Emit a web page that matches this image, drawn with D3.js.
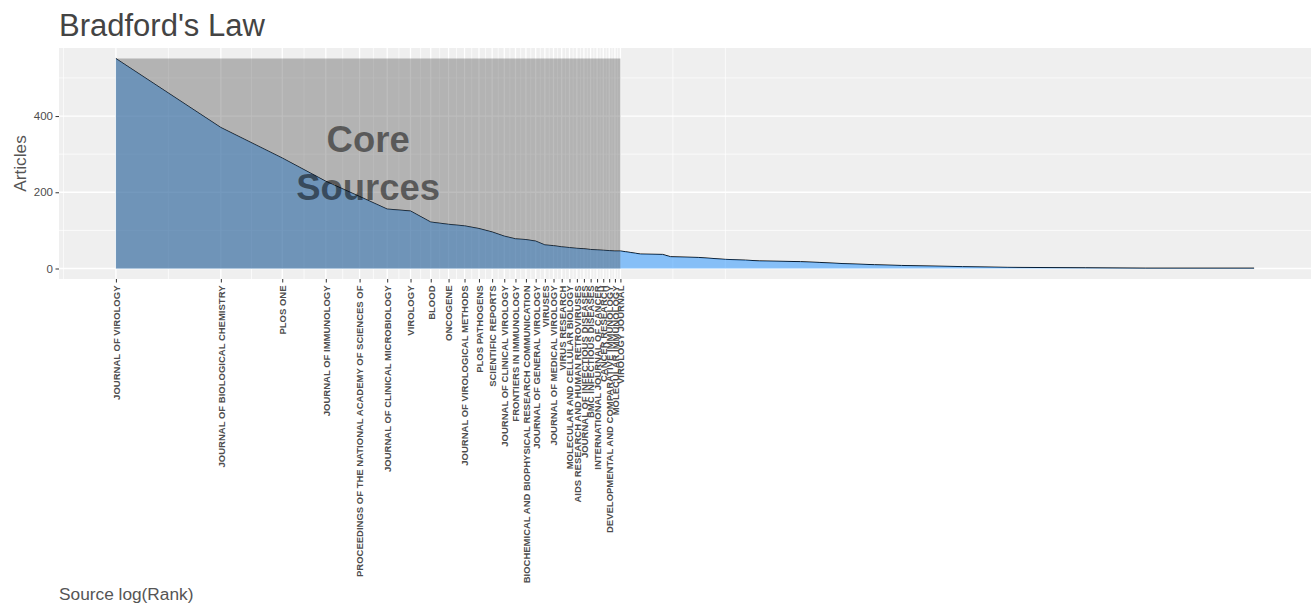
<!DOCTYPE html>
<html><head><meta charset="utf-8">
<script src="https://cdn.jsdelivr.net/npm/d3@7/dist/d3.min.js"></script>
<style>
body{margin:0;background:#fff;}
svg{display:block;font-family:"Liberation Sans",Arial,sans-serif;}
</style>
</head><body>
<svg id="c" width="1314" height="604"></svg>
<script>
// ---- data ----
const coreSources = [
  "JOURNAL OF VIROLOGY",
  "JOURNAL OF BIOLOGICAL CHEMISTRY",
  "PLOS ONE",
  "JOURNAL OF IMMUNOLOGY",
  "PROCEEDINGS OF THE NATIONAL ACADEMY OF SCIENCES OF",
  "JOURNAL OF CLINICAL MICROBIOLOGY",
  "VIROLOGY",
  "BLOOD",
  "ONCOGENE",
  "JOURNAL OF VIROLOGICAL METHODS",
  "PLOS PATHOGENS",
  "SCIENTIFIC REPORTS",
  "JOURNAL OF CLINICAL VIROLOGY",
  "FRONTIERS IN IMMUNOLOGY",
  "BIOCHEMICAL AND BIOPHYSICAL RESEARCH COMMUNICATION",
  "JOURNAL OF GENERAL VIROLOGY",
  "VIRUSES",
  "JOURNAL OF MEDICAL VIROLOGY",
  "VIRUS RESEARCH",
  "MOLECULAR AND CELLULAR BIOLOGY",
  "AIDS RESEARCH AND HUMAN RETROVIRUSES",
  "JOURNAL OF INFECTIOUS DISEASES",
  "BMC INFECTIOUS DISEASES",
  "INTERNATIONAL JOURNAL OF CANCER",
  "CANCER RESEARCH",
  "DEVELOPMENTAL AND COMPARATIVE IMMUNOLOGY",
  "MOLECULAR IMMUNOLOGY",
  "VIROLOGY JOURNAL"
];
const coreArticles = [551, 370, 290, 229, 189, 156, 151, 122, 116, 112, 105, 96, 85, 78,
                      76, 72, 62, 60, 57, 55, 53, 52, 50, 49, 48, 47, 46, 46];
// tail (non-core sources): rank at which the curve reaches the value
const tailRanks    = [29, 30, 31, 32, 37, 39, 47, 56, 64, 70, 92, 104, 121, 150, 179, 268, 362, 603, 896, 1840];
const tailArticles = [44, 42, 40, 38, 37, 31, 29, 24, 22, 20, 18, 16, 13, 10, 8, 5, 3, 2, 1, 1];
const yTickValues = [0, 200, 400];
const titleText = "Bradford's Law";
const xTitle = "Source log(Rank)";
const yTitle = "Articles";
const coreLabel = ["Core", "Sources"];

// ---- build points ----
const points = coreArticles.map((v, i) => ({rank: i + 1, articles: v}))
  .concat(tailRanks.map((r, i) => ({rank: r, articles: tailArticles[i]})));
const nCore = coreSources.length;
const maxRank = d3.max(points, d => d.rank);
const maxArt = d3.max(points, d => d.articles);

const svg = d3.select("#c");
const P = {left: 59, right: 1311, top: 48, bottom: 279};

const lx = Math.log(maxRank);
const x = d3.scaleLinear().domain([-0.05 * lx, 1.05 * lx]).range([P.left, P.right]);
const y = d3.scaleLinear().domain([-0.05 * maxArt, 1.05 * maxArt]).range([P.bottom, P.top]);

// panel
svg.append("rect").attr("x", P.left).attr("y", P.top)
  .attr("width", P.right - P.left).attr("height", P.bottom - P.top).attr("fill", "#EFEFEF");

const g = svg.append("g");
// minor breaks (ggplot style)
const majX = d3.range(1, nCore + 1).map(r => Math.log(r));
const bd = majX[1] - majX[0];
const extX = [majX[0] - bd].concat(majX, [majX[majX.length - 1] + bd]);
let minX = [];
for (let i = 0; i < extX.length - 1; i++) minX.push((extX[i] + extX[i + 1]) / 2);
minX.push(extX[extX.length - 1]);
const [d0, d1] = x.domain();
minX = minX.filter(v => v >= d0 && v <= d1);
const ydiff = yTickValues[1] - yTickValues[0];
const extY = [yTickValues[0] - ydiff].concat(yTickValues, [yTickValues[yTickValues.length - 1] + ydiff]);
const minY = [];
for (let i = 0; i < extY.length - 1; i++) minY.push((extY[i] + extY[i + 1]) / 2);
const [e0, e1] = y.domain();
const minYf = minY.filter(v => v >= e0 && v <= e1);

g.selectAll(".mnx").data(minX).enter().append("line")
  .attr("x1", d => x(d)).attr("x2", d => x(d)).attr("y1", P.top).attr("y2", P.bottom)
  .attr("stroke", "#fff").attr("stroke-width", 0.7);
g.selectAll(".mny").data(minYf).enter().append("line")
  .attr("x1", P.left).attr("x2", P.right).attr("y1", d => y(d)).attr("y2", d => y(d))
  .attr("stroke", "#fff").attr("stroke-width", 0.7);
g.selectAll(".mjx").data(majX).enter().append("line")
  .attr("x1", d => x(d)).attr("x2", d => x(d)).attr("y1", P.top).attr("y2", P.bottom)
  .attr("stroke", "#fff").attr("stroke-width", 1.3);
g.selectAll(".mjy").data(yTickValues).enter().append("line")
  .attr("x1", P.left).attr("x2", P.right).attr("y1", d => y(d)).attr("y2", d => y(d))
  .attr("stroke", "#fff").attr("stroke-width", 1.3);

// line + area
const lineGen = d3.line().x(d => x(Math.log(d.rank))).y(d => y(d.articles));
const areaGen = d3.area().x(d => x(Math.log(d.rank))).y0(y(0)).y1(d => y(d.articles));
svg.append("path").datum(points).attr("d", lineGen).attr("fill", "none")
  .attr("stroke", "#000").attr("stroke-width", 1);
svg.append("path").datum(points).attr("d", areaGen)
  .attr("fill", "rgb(30,144,255)").attr("fill-opacity", 0.5);

// core rect
svg.append("rect").attr("x", x(0)).attr("y", y(maxArt))
  .attr("width", x(Math.log(nCore)) - x(0)).attr("height", y(0) - y(maxArt))
  .attr("fill", "rgb(70,70,70)").attr("fill-opacity", 0.356);

// core text
const cx = x(Math.log(nCore) / 2), cy = y(maxArt / 2);
svg.append("text").attr("x", cx).attr("y", cy)
  .attr("text-anchor", "middle").attr("font-weight", "bold").attr("font-size", 36.5)
  .attr("fill", "#000").attr("fill-opacity", 0.5)
  .selectAll("tspan").data(coreLabel).enter().append("tspan")
  .attr("x", cx).attr("dy", (d, i) => i === 0 ? "-0.32em" : "1.33em").text(d => d);

// axes
const xAxis = d3.axisBottom(x).tickValues(majX).tickFormat((d, i) => coreSources[i])
  .tickSizeInner(3.5).tickSizeOuter(0).tickPadding(3);
const xg = svg.append("g").attr("transform", `translate(0,${P.bottom})`).call(xAxis);
xg.select(".domain").remove();
xg.selectAll(".tick line").attr("stroke", "#333").attr("stroke-width", 1);
xg.selectAll(".tick text")
  .attr("transform", "rotate(-90)")
  .attr("x", -6.5).attr("y", 0).attr("dy", "0.35em")
  .attr("text-anchor", "end")
  .attr("font-family", '"Liberation Sans",Arial,sans-serif')
  .attr("font-size", 9.5).attr("font-weight", "bold").attr("fill", "#4D4D4D");

const yAxis = d3.axisLeft(y).tickValues(yTickValues).tickSizeInner(3.5).tickSizeOuter(0).tickPadding(2.5);
const yg = svg.append("g").attr("transform", `translate(${P.left},0)`).call(yAxis);
yg.select(".domain").remove();
yg.selectAll(".tick line").attr("stroke", "#333").attr("stroke-width", 1);
yg.selectAll(".tick text").attr("font-family", '"Liberation Sans",Arial,sans-serif')
  .attr("font-size", 11.5).attr("fill", "#4D4D4D");

// titles
svg.append("text").attr("x", 59).attr("y", 36).attr("font-size", 31).attr("fill", "#444").text(titleText);
svg.append("text").attr("x", 59).attr("y", 600).attr("font-size", 17.3).attr("fill", "#555").text(xTitle);
svg.append("text").attr("transform", `translate(26,${(P.top + P.bottom) / 2}) rotate(-90)`)
  .attr("text-anchor", "middle").attr("font-size", 17.3).attr("fill", "#555").text(yTitle);
</script>
</body></html>
